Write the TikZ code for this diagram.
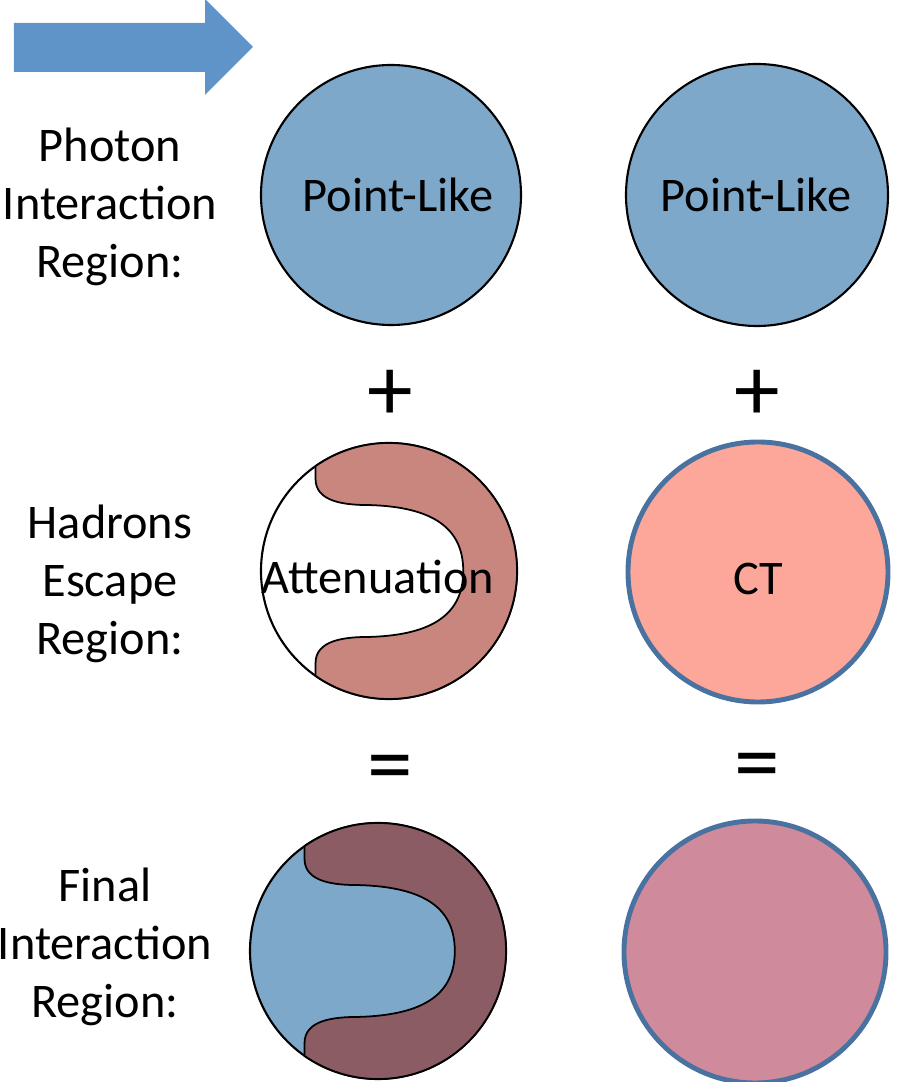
\documentclass[tikz,border=0pt]{standalone}
\usepackage{fontspec}
\setmainfont{Carlito}
\usepackage{tikz}
\usepackage[rgb]{xcolor}

\definecolor{arrowblue}{RGB}{95,148,200}
\definecolor{photonblue}{RGB}{126,168,201}
\definecolor{attred}{RGB}{201,134,126}
\definecolor{ctpink}{RGB}{253,166,154}
\definecolor{ringblue}{RGB}{74,114,160}
\definecolor{finalred}{RGB}{139,92,100}
\definecolor{finalpink}{RGB}{207,139,155}

\begin{document}
\begin{tikzpicture}[
	txt/.style={font=\fontsize{13.75}{16.4}\selectfont, inner sep=0pt},
	lbl/.style={txt, align=center},
	opsign/.style={font=\fontsize{26}{26}\selectfont, inner sep=0pt},
	thinline/.style={draw=black, line width=0.6pt},
	ring/.style={draw=ringblue, line width=1.4pt}]
	\useasboundingbox (0,0) rectangle (9.2,10.82);

	% big arrow
	\fill[arrowblue] (0.14,10.10) -- (2.05,10.10) -- (2.05,9.87) -- (2.53,10.35)
		-- (2.05,10.83) -- (2.05,10.59) -- (0.14,10.59) -- cycle;

	% row labels
	\node[lbl] (photon) at (1.10,8.75) {Photon\\Interaction\\Region:};
	\node[lbl] (escape) at (1.10,4.98) {Hadrons\\Escape\\Region:};
	\node[lbl] (final) at (1.05,1.35) {Final\\Interaction\\Region:};

	% top row
	\draw[thinline, fill=photonblue] (3.91,8.87) circle (1.30);
	\draw[thinline, fill=photonblue] (7.57,8.87) circle (1.31);
	\node[txt] (pl1) at (3.98,8.87) {Point-Like};
	\node[txt] (pl2) at (7.56,8.87) {Point-Like};

	\node[opsign] (plus1) at (3.90,6.87) {+};
	\node[opsign] (plus2) at (7.57,6.87) {+};

	% middle row
	\draw[thinline, fill=white] (3.89,5.11) circle (1.28);
	\begin{scope}[shift={(3.89,5.11)}, scale=1.28]
		\draw[thinline, line width=0.5pt, fill=attred] (125:1) arc[start angle=125, end angle=-125, radius=1]
			-- (-0.574,-0.72) .. controls (-0.574,-0.54) and (-0.35,-0.515) .. (-0.15,-0.515)
			.. controls (0.35,-0.50) and (0.58,-0.33) .. (0.58,0)
			.. controls (0.58,0.33) and (0.35,0.50) .. (-0.15,0.515)
			.. controls (-0.35,0.515) and (-0.574,0.54) .. (-0.574,0.72) -- cycle;
	\end{scope}
	\node[txt] (att) at (3.78,5.05) {Attenuation};

	\draw[ring, fill=ctpink] (7.58,5.10) circle (1.30);
	\node[txt] (ct) at (7.58,5.03) {CT};

	\node[opsign] (eq1) at (3.90,3.07) {=};
	\node[opsign] (eq2) at (7.57,3.09) {=};

	% bottom row
	\draw[thinline, fill=photonblue] (3.78,1.31) circle (1.28);
	\begin{scope}[shift={(3.78,1.31)}, scale=1.28]
		\draw[thinline, line width=0.5pt, fill=finalred] (125:1) arc[start angle=125, end angle=-125, radius=1]
			-- (-0.574,-0.72) .. controls (-0.574,-0.54) and (-0.35,-0.515) .. (-0.15,-0.515)
			.. controls (0.37,-0.50) and (0.6,-0.33) .. (0.6,0)
			.. controls (0.6,0.33) and (0.37,0.50) .. (-0.15,0.515)
			.. controls (-0.35,0.515) and (-0.574,0.54) .. (-0.574,0.72) -- cycle;
	\end{scope}

	\draw[ring, fill=finalpink] (7.55,1.30) circle (1.31);

\end{tikzpicture}
\end{document}
